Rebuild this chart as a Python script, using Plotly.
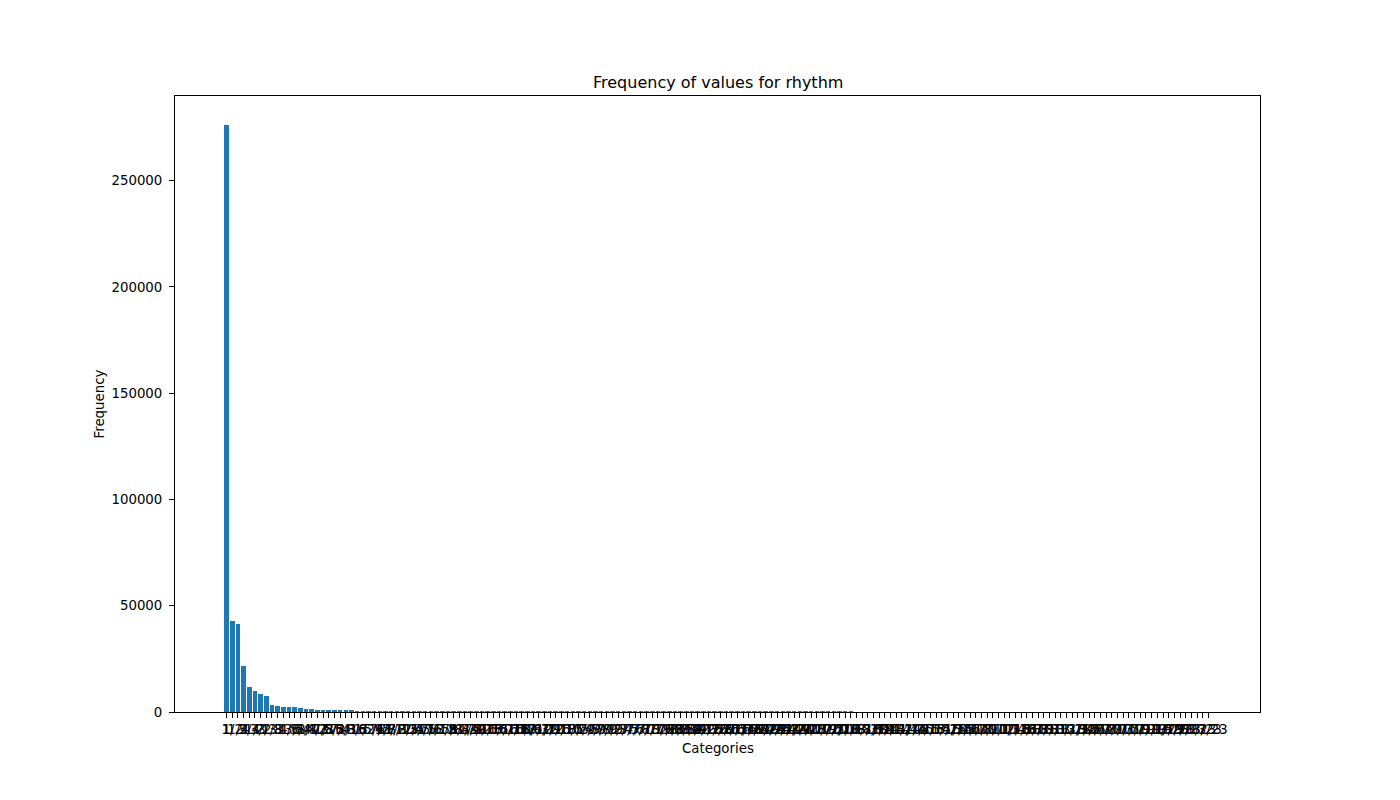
import plotly.graph_objects as go

categories = [
    "1", "1/2", "1/4", "2", "3/4", "1/3", "3/2", "2/3", "1/8", "3",
    "4", "1/6", "3/8", "5/4", "5/8", "1/12", "4/3", "7/8", "1/16", "5/2",
    "7/4", "5/3", "3/16", "8/3", "6", "1/24", "5/6", "7/2", "9/8", "11/8",
    "5/12", "7/12", "2/5", "1/5", "3/5", "4/5", "7/6", "11/12", "13/8", "15/8",
    "5", "9/4", "11/4", "1/32", "3/32", "7/16", "5/16", "9/16", "11/16", "13/16",
    "15/16", "7/3", "10/3", "11/6", "13/12", "17/12", "19/12", "1/10", "3/10", "7/10",
    "9/10", "6/5", "8/5", "1/9", "2/9", "4/9", "5/9", "7/9", "8/9", "1/7",
    "2/7", "3/7", "4/7", "5/7", "6/7", "8/7", "13/6", "17/8", "19/8", "21/8",
    "23/8", "13/4", "15/4", "8", "17/16", "19/16", "21/16", "23/16", "25/16", "27/16",
    "29/16", "31/16", "1/48", "5/24", "7/24", "11/24", "13/24", "17/24", "19/24", "23/24",
    "25/24", "1/20", "3/20", "7/20", "9/20", "11/20", "13/20", "17/20", "19/20", "1/18",
    "5/18", "7/18", "11/18", "13/18", "17/18", "1/14", "3/14", "5/14", "9/14", "11/14",
    "13/14", "1/15", "2/15", "4/15", "7/15", "8/15", "11/15", "13/15", "14/15", "1/11",
    "2/11", "3/11", "4/11", "5/11", "6/11", "7/11", "8/11", "9/11", "10/11", "1/13",
    "2/13", "3/13", "4/13", "5/13", "6/13", "7/13", "8/13", "9/13", "10/13", "11/13",
    "12/13", "1/17", "2/17", "3/17", "4/17", "5/17", "6/17", "7/17", "8/17", "9/17",
    "1/19", "3/19", "5/19", "7/19", "9/19", "11/19", "1/23", "3/23", "5/23", "7/23",
    "9/23", "11/23", "13/23", "17/23",
]

frequencies = [
    276000, 42800, 41400, 21700, 11800, 9900, 8500, 7500, 3300, 2800,
    2400, 2400, 2300, 1900, 1400, 1300, 650,
    600, 580, 550, 520, 500, 480, 460, 440, 420, 400,
    180, 170, 160, 150, 140, 130, 120, 110, 100, 95,
    90, 85, 80, 75, 70, 65, 60, 56, 52, 48,
    45, 42, 40, 38, 36, 34, 32, 30, 28, 26,
    25, 24, 23, 22, 21, 20, 19, 18, 17, 16,
    15, 15, 14, 14, 13, 13, 12, 12, 11, 11,
    10, 10, 9, 9, 9, 8, 8, 8, 7, 7,
    7, 6, 6, 6, 6, 5, 5, 5, 5, 5,
    4, 4, 4, 4, 4, 4, 3, 3, 3, 3,
    3, 3, 3, 3, 2, 2, 2, 2, 2, 2,
    2, 2, 2, 2, 2, 2, 1, 1, 1, 1,
    1, 1, 1, 1, 1, 1, 1, 1, 1, 1,
    1, 1, 1, 1, 1, 1, 1, 1, 1, 1,
    1, 1, 1, 1, 1, 1, 1, 1, 1, 1,
    1, 1, 1, 1, 1, 1, 1, 1, 1, 1,
    1, 1, 1, 1, 1, 1, 1,
]

y_ticks = [0, 50000, 100000, 150000, 200000, 250000]

n = min(len(categories), len(frequencies))
cats = categories[:n]
vals = frequencies[:n]
pos = list(range(n))

FONT = "DejaVu Sans"

fig = go.Figure(
    go.Bar(
        x=pos,
        y=vals,
        width=0.8,
        marker=dict(color="#1f77b4", line=dict(width=0)),
        hoverinfo="skip",
    )
)

span = n - 0.2
xmin = -0.4 - 0.05 * span
xmax = n - 1 + 0.4 + 0.05 * span
ymax = max(vals) * 1.05

fig.update_layout(
    width=1400,
    height=800,
    margin=dict(l=175, r=140, t=96, b=88),
    paper_bgcolor="white",
    plot_bgcolor="white",
    showlegend=False,
    font=dict(family=FONT, size=13.33, color="black"),
    bargap=0,
)

fig.update_xaxes(
    range=[xmin, xmax],
    tickmode="array",
    tickvals=pos,
    ticktext=cats,
    tickangle=0,
    ticks="outside",
    ticklen=5,
    tickwidth=1,
    tickcolor="black",
    ticklabelstandoff=0,
    showgrid=False,
    zeroline=False,
    showline=True,
    linecolor="black",
    linewidth=1,
    mirror=True,
    tickfont=dict(family=FONT, size=13.33, color="black"),
)

fig.update_yaxes(
    range=[0, ymax],
    tickmode="array",
    tickvals=y_ticks,
    ticktext=[str(v) for v in y_ticks],
    ticks="outside",
    ticklen=5,
    tickwidth=1,
    tickcolor="black",
    ticklabelstandoff=4,
    showgrid=False,
    zeroline=False,
    showline=True,
    linecolor="black",
    linewidth=1,
    mirror=True,
    tickfont=dict(family=FONT, size=13.33, color="black"),
)

fig.add_annotation(
    text="Frequency of values for rhythm",
    xref="paper", yref="paper", x=0.5, y=1,
    xanchor="center", yanchor="bottom", yshift=2,
    showarrow=False, font=dict(family=FONT, size=16, color="black"),
)
fig.add_annotation(
    text="Categories",
    xref="paper", yref="paper", x=0.5, y=0,
    xanchor="center", yanchor="top", yshift=-27,
    showarrow=False, font=dict(family=FONT, size=13.33, color="black"),
)
fig.add_annotation(
    text="Frequency",
    xref="paper", yref="paper", x=0, y=0.5,
    xanchor="right", yanchor="middle", xshift=-67, textangle=-90,
    showarrow=False, font=dict(family=FONT, size=13.33, color="black"),
)

fig.write_html("out.html")
